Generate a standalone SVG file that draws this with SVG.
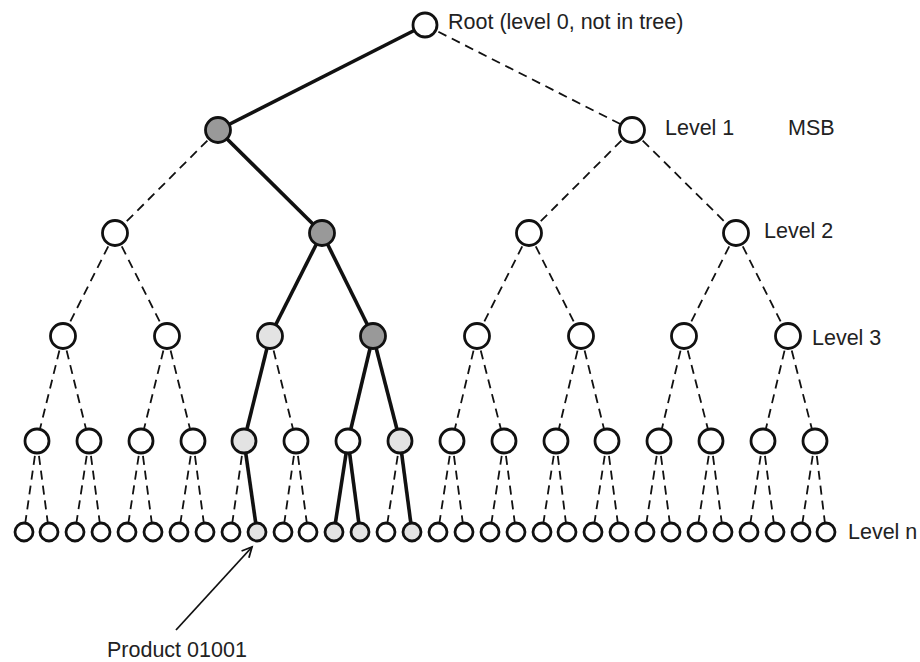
<svg xmlns="http://www.w3.org/2000/svg" width="920" height="662" viewBox="0 0 920 662">
<style>
.e{stroke:#111;fill:none}
.d{stroke-width:1.8;stroke-dasharray:9 6}
.s{stroke-width:3.6}
.n{stroke:#111;stroke-width:2.8;fill:#fff}
.dk{fill:#999}
.lt{fill:#e3e3e3}
.t{font-family:"Liberation Sans",Arial,sans-serif;font-size:21.5px;fill:#222}
</style>
<defs>
<marker id="ah" markerWidth="14" markerHeight="14" refX="11" refY="6" orient="auto" markerUnits="userSpaceOnUse">
<path d="M1,1 L11,6 L1,11" fill="none" stroke="#111" stroke-width="1.8"/>
</marker>
</defs>
<rect width="920" height="662" fill="#fff"/>
<g id="connectors">
<line class="e s" x1="425" y1="25" x2="218" y2="130"/>
<line class="e d" x1="425" y1="25" x2="632" y2="130"/>
<line class="e d" x1="218" y1="130" x2="115" y2="233"/>
<line class="e s" x1="218" y1="130" x2="322" y2="233"/>
<line class="e d" x1="632" y1="130" x2="529" y2="233"/>
<line class="e d" x1="632" y1="130" x2="736" y2="233"/>
<line class="e d" x1="115" y1="233" x2="63" y2="336"/>
<line class="e d" x1="115" y1="233" x2="167" y2="336"/>
<line class="e s" x1="322" y1="233" x2="270" y2="336"/>
<line class="e s" x1="322" y1="233" x2="373" y2="336"/>
<line class="e d" x1="529" y1="233" x2="477" y2="336"/>
<line class="e d" x1="529" y1="233" x2="581" y2="336"/>
<line class="e d" x1="736" y1="233" x2="684" y2="336"/>
<line class="e d" x1="736" y1="233" x2="788" y2="336"/>
<line class="e d" x1="63" y1="336" x2="37" y2="441"/>
<line class="e d" x1="63" y1="336" x2="89" y2="441"/>
<line class="e d" x1="167" y1="336" x2="141" y2="441"/>
<line class="e d" x1="167" y1="336" x2="193" y2="441"/>
<line class="e s" x1="270" y1="336" x2="244" y2="441"/>
<line class="e d" x1="270" y1="336" x2="296" y2="441"/>
<line class="e s" x1="373" y1="336" x2="348" y2="441"/>
<line class="e s" x1="373" y1="336" x2="400" y2="441"/>
<line class="e d" x1="477" y1="336" x2="452" y2="441"/>
<line class="e d" x1="477" y1="336" x2="504" y2="441"/>
<line class="e d" x1="581" y1="336" x2="556" y2="441"/>
<line class="e d" x1="581" y1="336" x2="607" y2="441"/>
<line class="e d" x1="684" y1="336" x2="659" y2="441"/>
<line class="e d" x1="684" y1="336" x2="711" y2="441"/>
<line class="e d" x1="788" y1="336" x2="763" y2="441"/>
<line class="e d" x1="788" y1="336" x2="815" y2="441"/>
<line class="e d" x1="37" y1="441" x2="24" y2="532"/>
<line class="e d" x1="37" y1="441" x2="49" y2="532"/>
<line class="e d" x1="89" y1="441" x2="75" y2="532"/>
<line class="e d" x1="89" y1="441" x2="101" y2="532"/>
<line class="e d" x1="141" y1="441" x2="127" y2="532"/>
<line class="e d" x1="141" y1="441" x2="153" y2="532"/>
<line class="e d" x1="193" y1="441" x2="179" y2="532"/>
<line class="e d" x1="193" y1="441" x2="205" y2="532"/>
<line class="e d" x1="244" y1="441" x2="231" y2="532"/>
<line class="e s" x1="244" y1="441" x2="257" y2="532"/>
<line class="e d" x1="296" y1="441" x2="283" y2="532"/>
<line class="e d" x1="296" y1="441" x2="308" y2="532"/>
<line class="e s" x1="348" y1="441" x2="334" y2="532"/>
<line class="e s" x1="348" y1="441" x2="360" y2="532"/>
<line class="e d" x1="400" y1="441" x2="386" y2="532"/>
<line class="e s" x1="400" y1="441" x2="412" y2="532"/>
<line class="e d" x1="452" y1="441" x2="438" y2="532"/>
<line class="e d" x1="452" y1="441" x2="464" y2="532"/>
<line class="e d" x1="504" y1="441" x2="490" y2="532"/>
<line class="e d" x1="504" y1="441" x2="516" y2="532"/>
<line class="e d" x1="556" y1="441" x2="542" y2="532"/>
<line class="e d" x1="556" y1="441" x2="567" y2="532"/>
<line class="e d" x1="607" y1="441" x2="593" y2="532"/>
<line class="e d" x1="607" y1="441" x2="619" y2="532"/>
<line class="e d" x1="659" y1="441" x2="645" y2="532"/>
<line class="e d" x1="659" y1="441" x2="671" y2="532"/>
<line class="e d" x1="711" y1="441" x2="697" y2="532"/>
<line class="e d" x1="711" y1="441" x2="723" y2="532"/>
<line class="e d" x1="763" y1="441" x2="749" y2="532"/>
<line class="e d" x1="763" y1="441" x2="775" y2="532"/>
<line class="e d" x1="815" y1="441" x2="801" y2="532"/>
<line class="e d" x1="815" y1="441" x2="826" y2="532"/>
<line class="e" stroke-width="1.8" x1="176" y1="630" x2="252" y2="547" marker-end="url(#ah)"/>
</g>
<g id="root"><circle class="n" cx="425" cy="25" r="12"/><text class="t" x="448" y="29">Root (level 0, not in tree)</text></g>
<g id="l1-0"><circle class="n dk" cx="218" cy="130" r="12.5"/></g>
<g id="l1-1"><circle class="n" cx="632" cy="130" r="12.5"/><text class="t" x="665" y="135">Level 1</text><text class="t" x="788" y="135">MSB</text></g>
<g id="l2-0"><circle class="n" cx="115" cy="233" r="12.5"/></g>
<g id="l2-1"><circle class="n dk" cx="322" cy="233" r="12.5"/></g>
<g id="l2-2"><circle class="n" cx="529" cy="233" r="12.5"/></g>
<g id="l2-3"><circle class="n" cx="736" cy="233" r="12.5"/><text class="t" x="764" y="238">Level 2</text></g>
<g id="l3-0"><circle class="n" cx="63" cy="336" r="12.5"/></g>
<g id="l3-1"><circle class="n" cx="167" cy="336" r="12.5"/></g>
<g id="l3-2"><circle class="n lt" cx="270" cy="336" r="12.5"/></g>
<g id="l3-3"><circle class="n dk" cx="373" cy="336" r="12.5"/></g>
<g id="l3-4"><circle class="n" cx="477" cy="336" r="12.5"/></g>
<g id="l3-5"><circle class="n" cx="581" cy="336" r="12.5"/></g>
<g id="l3-6"><circle class="n" cx="684" cy="336" r="12.5"/></g>
<g id="l3-7"><circle class="n" cx="788" cy="336" r="12.5"/><text class="t" x="812" y="345">Level 3</text></g>
<g id="l4-0"><circle class="n" cx="37" cy="441" r="12"/></g>
<g id="l4-1"><circle class="n" cx="89" cy="441" r="12"/></g>
<g id="l4-2"><circle class="n" cx="141" cy="441" r="12"/></g>
<g id="l4-3"><circle class="n" cx="193" cy="441" r="12"/></g>
<g id="l4-4"><circle class="n lt" cx="244" cy="441" r="12"/></g>
<g id="l4-5"><circle class="n" cx="296" cy="441" r="12"/></g>
<g id="l4-6"><circle class="n" cx="348" cy="441" r="12"/></g>
<g id="l4-7"><circle class="n lt" cx="400" cy="441" r="12"/></g>
<g id="l4-8"><circle class="n" cx="452" cy="441" r="12"/></g>
<g id="l4-9"><circle class="n" cx="504" cy="441" r="12"/></g>
<g id="l4-10"><circle class="n" cx="556" cy="441" r="12"/></g>
<g id="l4-11"><circle class="n" cx="607" cy="441" r="12"/></g>
<g id="l4-12"><circle class="n" cx="659" cy="441" r="12"/></g>
<g id="l4-13"><circle class="n" cx="711" cy="441" r="12"/></g>
<g id="l4-14"><circle class="n" cx="763" cy="441" r="12"/></g>
<g id="l4-15"><circle class="n" cx="815" cy="441" r="12"/></g>
<g id="ln-0"><circle class="n" cx="24" cy="532" r="9"/></g>
<g id="ln-1"><circle class="n" cx="49" cy="532" r="9"/></g>
<g id="ln-2"><circle class="n" cx="75" cy="532" r="9"/></g>
<g id="ln-3"><circle class="n" cx="101" cy="532" r="9"/></g>
<g id="ln-4"><circle class="n" cx="127" cy="532" r="9"/></g>
<g id="ln-5"><circle class="n" cx="153" cy="532" r="9"/></g>
<g id="ln-6"><circle class="n" cx="179" cy="532" r="9"/></g>
<g id="ln-7"><circle class="n" cx="205" cy="532" r="9"/></g>
<g id="ln-8"><circle class="n" cx="231" cy="532" r="9"/></g>
<g id="ln-9"><circle class="n lt" cx="257" cy="532" r="9"/></g>
<g id="ln-10"><circle class="n" cx="283" cy="532" r="9"/></g>
<g id="ln-11"><circle class="n" cx="308" cy="532" r="9"/></g>
<g id="ln-12"><circle class="n lt" cx="334" cy="532" r="9"/></g>
<g id="ln-13"><circle class="n lt" cx="360" cy="532" r="9"/></g>
<g id="ln-14"><circle class="n" cx="386" cy="532" r="9"/></g>
<g id="ln-15"><circle class="n lt" cx="412" cy="532" r="9"/></g>
<g id="ln-16"><circle class="n" cx="438" cy="532" r="9"/></g>
<g id="ln-17"><circle class="n" cx="464" cy="532" r="9"/></g>
<g id="ln-18"><circle class="n" cx="490" cy="532" r="9"/></g>
<g id="ln-19"><circle class="n" cx="516" cy="532" r="9"/></g>
<g id="ln-20"><circle class="n" cx="542" cy="532" r="9"/></g>
<g id="ln-21"><circle class="n" cx="567" cy="532" r="9"/></g>
<g id="ln-22"><circle class="n" cx="593" cy="532" r="9"/></g>
<g id="ln-23"><circle class="n" cx="619" cy="532" r="9"/></g>
<g id="ln-24"><circle class="n" cx="645" cy="532" r="9"/></g>
<g id="ln-25"><circle class="n" cx="671" cy="532" r="9"/></g>
<g id="ln-26"><circle class="n" cx="697" cy="532" r="9"/></g>
<g id="ln-27"><circle class="n" cx="723" cy="532" r="9"/></g>
<g id="ln-28"><circle class="n" cx="749" cy="532" r="9"/></g>
<g id="ln-29"><circle class="n" cx="775" cy="532" r="9"/></g>
<g id="ln-30"><circle class="n" cx="801" cy="532" r="9"/></g>
<g id="ln-31"><circle class="n" cx="826" cy="532" r="9"/><text class="t" x="848" y="539">Level n</text></g>
<g id="product-label"><text class="t" x="107" y="657">Product 01001</text></g>
</svg>
